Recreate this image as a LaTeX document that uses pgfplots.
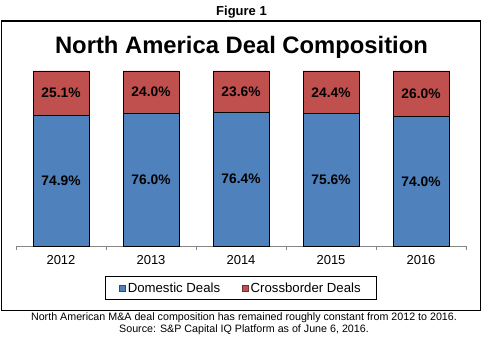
\documentclass[border=0pt]{standalone}
\usepackage{pgfplots}
\pgfplotsset{compat=1.18}
\usepackage{fontspec}
\setmainfont{Liberation Sans}
\definecolor{dblue}{HTML}{4F81BD}
\definecolor{dred}{HTML}{C0504D}
\definecolor{axgray}{HTML}{868686}
\begin{document}
\begin{tikzpicture}[x=1bp,y=1bp]
\path (0,0) rectangle (483,345);
\draw[line width=1bp] (1.5,34.5) rectangle (480.5,324);
\node[font=\bfseries\fontsize{13bp}{15bp}\selectfont] at (241.5,333) {Figure 1};
\node[font=\bfseries\fontsize{23.8bp}{28bp}\selectfont] at (241.5,298) {North America Deal Composition};
\begin{axis}[
  at={(16bp,99bp)}, anchor=south west,
  scale only axis, width=450bp, height=175bp,
  xmin=-0.5, xmax=4.5, ymin=0, ymax=100,
  ybar stacked, bar width=56bp,
  axis y line=none, axis x line=bottom,
  axis line style={axgray, line width=0.8bp, -},
  xtick={0,1,2,3,4},
  xticklabels={2012,2013,2014,2015,2016},
  major tick length=0pt,
  extra x ticks={-0.5,0.5,1.5,2.5,3.5,4.5},
  extra x tick labels={},
  extra x tick style={tick align=outside, major tick length=4bp, tick style={axgray, line width=0.8bp}},
  xticklabel style={font=\fontsize{13bp}{15bp}\selectfont, yshift=-6bp},
  /pgf/number format/assume math mode=true,
  legend style={at={(0.5,-0.24)}, anchor=center, draw=black, line width=0.8bp,
    font=\fontsize{13.2bp}{15bp}\selectfont, legend columns=2,
    /tikz/every even column/.append style={column sep=20bp},
    inner xsep=14bp, inner ysep=4bp},
]
\addplot[fill=dblue, draw=black, line width=0.8bp,
  legend image code/.code={\draw[fill=dblue, draw=dblue!60!black, line width=0.5bp] (0bp,-3bp) rectangle (6bp,3bp);}]
  coordinates {(0,74.9) (1,76.0) (2,76.4) (3,75.6) (4,74.0)};
\addplot[fill=dred, draw=black, line width=0.8bp,
  legend image code/.code={\draw[fill=dred, draw=dred!60!black, line width=0.5bp] (0bp,-3bp) rectangle (6bp,3bp);}]
  coordinates {(0,25.1) (1,24.0) (2,23.6) (3,24.4) (4,26.0)};
\legend{Domestic Deals, Crossborder Deals}
\end{axis}
\begin{axis}[
  at={(16bp,99bp)}, anchor=south west,
  scale only axis, width=450bp, height=175bp,
  xmin=-0.5, xmax=4.5, ymin=0, ymax=100,
  hide axis,
  /pgf/number format/assume math mode=true,
  nodes near coords={\pgfmathprintnumber[fixed,fixed zerofill,precision=1]{\pgfplotspointmeta}\%},
  point meta=explicit,
  every node near coord/.append style={anchor=center, font=\bfseries\fontsize{13.8bp}{16bp}\selectfont, text=black},
]
\addplot[only marks, mark=none] table[meta=m] {
x y m
0 37.45 74.9
1 38.0 76.0
2 38.2 76.4
3 37.8 75.6
4 37.0 74.0
};
\addplot[only marks, mark=none] table[meta=m] {
x y m
0 87.45 25.1
1 88.0 24.0
2 88.2 23.6
3 87.8 24.4
4 87.0 26.0
};
\end{axis}
\node[font=\fontsize{10.7bp}{12bp}\selectfont] at (244,27.3) {North American M\&A deal composition has remained roughly constant from 2012 to 2016.};
\node[font=\fontsize{10.7bp}{12bp}\selectfont] at (244,14.8) {Source: S\&P Capital IQ Platform as of June 6, 2016.};
\end{tikzpicture}
\end{document}
